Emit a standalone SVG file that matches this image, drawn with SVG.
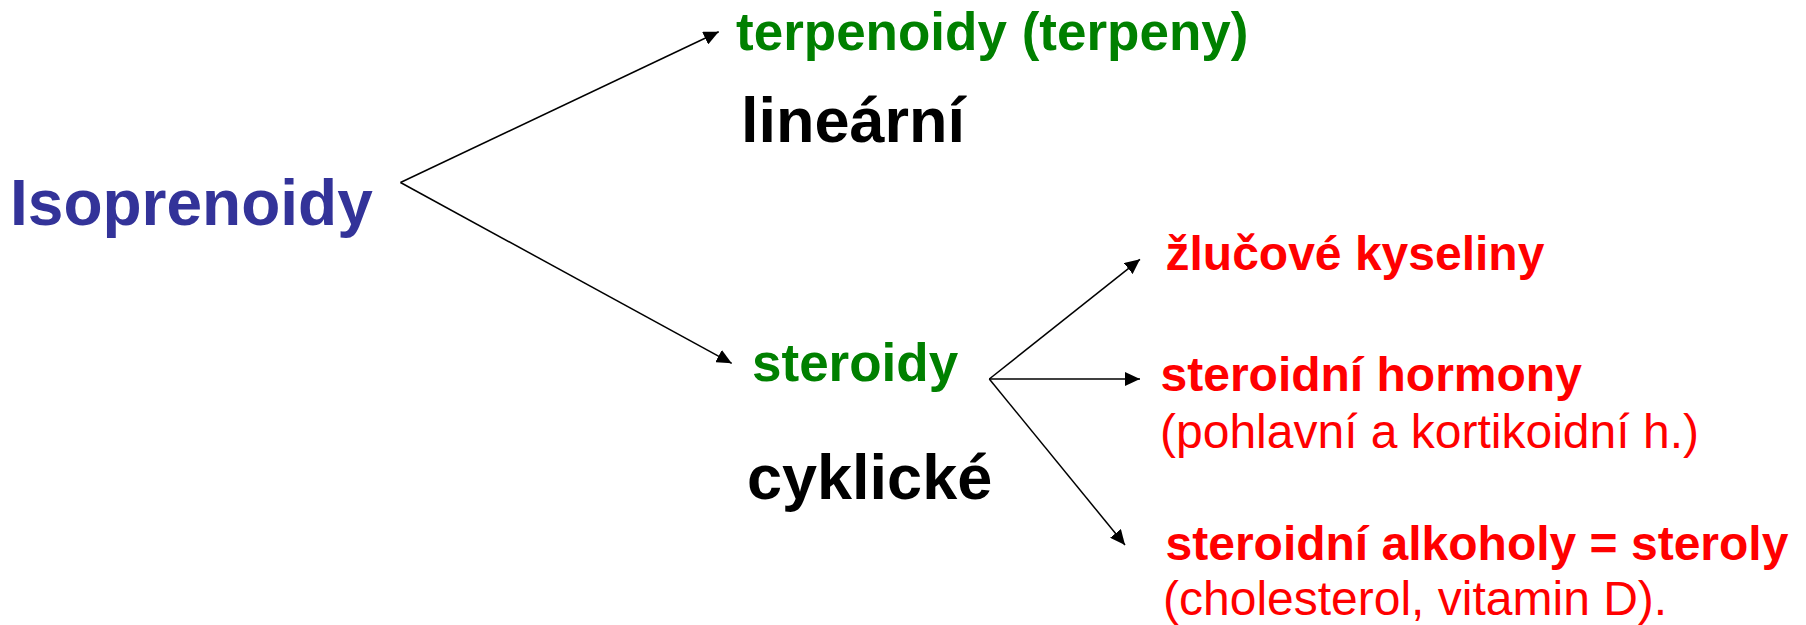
<svg xmlns="http://www.w3.org/2000/svg" width="1806" height="625" viewBox="0 0 1806 625">
<style>
text{font-family:"Liberation Sans",Arial,sans-serif}
.b{font-weight:bold}
.root{fill:#333399;font-size:64px}
.green{fill:#008000;font-size:53px}
.black{fill:#000000;font-size:63px}
.red{fill:#FF0000;font-size:48px}
.conn{stroke:#000;stroke-width:1.5;fill:none;marker-end:url(#ah)}
</style>
<defs>
<marker id="ah" markerUnits="userSpaceOnUse" markerWidth="16" markerHeight="14" refX="15" refY="7" orient="auto">
<path d="M0,0 L15,7 L0,14 z" fill="#000"/>
</marker>
</defs>
<rect width="1806" height="625" fill="#fff"/>
<g id="connectors">
<path class="conn" d="M400.5,182.5 L718.7,31.7"/>
<path class="conn" d="M400.5,182.5 L731.7,363.3"/>
<path class="conn" d="M989.3,379 L1140,259.3"/>
<path class="conn" d="M989.3,379 L1140,379"/>
<path class="conn" d="M989.3,379 L1125,545"/>
</g>
<g id="isoprenoidy"><text class="b root" x="10" y="225">Isoprenoidy</text></g>
<g id="terpenoidy"><text class="b green" x="736" y="50">terpenoidy (terpeny)</text></g>
<g id="linearni"><text class="b black" x="741" y="141.5">lineární</text></g>
<g id="steroidy"><text class="b green" x="752" y="381">steroidy</text></g>
<g id="cyklicke"><text class="b black" x="747" y="499">cyklické</text></g>
<g id="zlucove"><text class="b red" x="1165.5" y="270">žlučové kyseliny</text></g>
<g id="hormony">
<text class="b red" x="1160.5" y="391">steroidní hormony</text>
<text class="red" x="1160" y="448">(pohlavní a kortikoidní h.)</text>
</g>
<g id="steroly">
<text class="b red" x="1165.5" y="560">steroidní alkoholy = steroly</text>
<text class="red" x="1163" y="615">(cholesterol, vitamin D).</text>
</g>
</svg>
